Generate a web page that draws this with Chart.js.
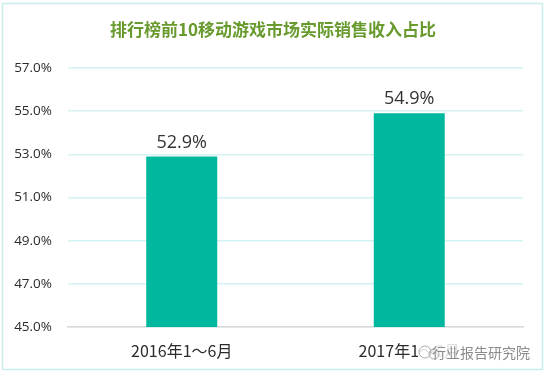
<!DOCTYPE html>
<html><head><meta charset="utf-8">
<script src="https://cdn.jsdelivr.net/npm/chart.js@4"></script>
<style>html,body{margin:0;padding:0;background:#fff;}#wrap{width:546px;height:378px;position:relative;}</style>
</head><body><div id="wrap"><canvas id="c" width="546" height="378"></canvas></div>
<script>
const titleText = '排行榜前10移动游戏市场实际销售收入占比';
const categories = ['2016年1～6月', '2017年1～6月'];
const shareValues = [52.9, 54.9];
const yTicks = [45, 47, 49, 51, 53, 55, 57];
const watermark = '行业报告研究院';

const deco = {
  id: 'deco',
  beforeDraw(chart) {
    const ctx = chart.ctx;
    ctx.save();
    ctx.fillStyle = '#fff';
    ctx.fillRect(0, 0, chart.width, chart.height);
    ctx.strokeStyle = '#c9efec';
    ctx.lineWidth = 1.5;
    ctx.strokeRect(2.5, 3.5, 540, 366);
    ctx.font = 'bold 17px "Noto Sans CJK SC", sans-serif';
    ctx.fillStyle = '#689a2e';
    ctx.textAlign = 'center';
    ctx.textBaseline = 'middle';
    ctx.fillText(titleText, 273, 30);
    ctx.restore();
  },
  afterDatasetsDraw(chart) {
    const ctx = chart.ctx;
    const meta = chart.getDatasetMeta(0);
    ctx.save();
    ctx.font = '18px "Open Sans", "Noto Sans", sans-serif';
    ctx.fillStyle = '#333';
    ctx.textAlign = 'center';
    ctx.textBaseline = 'bottom';
    meta.data.forEach((bar, i) => {
      ctx.fillText(shareValues[i].toFixed(1) + '%', bar.x, bar.y - 5);
    });
    ctx.restore();
  },
  afterDraw(chart) {
    const ctx = chart.ctx;
    ctx.save();
    ctx.fillStyle = 'rgba(255,255,255,0.85)';
    ctx.fillRect(418, 340, 112, 24);
    ctx.strokeStyle = '#aaa';
    ctx.lineWidth = 1;
    ctx.beginPath(); ctx.arc(425, 352, 6, 0, Math.PI * 2); ctx.stroke();
    ctx.beginPath(); ctx.arc(434, 354, 5, 0, Math.PI * 2); ctx.stroke();
    ctx.font = '14px "Noto Sans CJK SC", sans-serif';
    ctx.fillStyle = '#8a8a8a';
    ctx.textAlign = 'left';
    ctx.textBaseline = 'middle';
    ctx.fillText(watermark, 432, 353);
    ctx.restore();
  }
};

new Chart(document.getElementById('c'), {
  type: 'bar',
  data: {
    labels: categories,
    datasets: [{
      data: shareValues,
      backgroundColor: '#00b89d',
      barPercentage: 0.312,
      categoryPercentage: 1
    }]
  },
  options: {
    responsive: false,
    animation: false,
    layout: { padding: { top: 68, left: 0, right: 23, bottom: 0 } },
    plugins: { legend: { display: false }, title: { display: false }, tooltip: { enabled: false } },
    scales: {
      x: {
        grid: { display: false, drawTicks: false },
        border: { display: true, color: '#d9d9d9', width: 1.5 },
        ticks: { color: '#2b2b2b', font: { size: 16, family: '"Noto Sans CJK SC", sans-serif' }, padding: 14 },
        afterFit(s) { s.height = 51; }
      },
      y: {
        min: 45, max: 57,
        afterBuildTicks(s) { s.ticks = yTicks.map(v => ({ value: v })); },
        grid: { color: '#d3f2f1', lineWidth: 1.5, drawTicks: false },
        border: { display: false },
        ticks: {
          color: '#2b2b2b', padding: 16,
          font: { size: 13.5, family: '"Open Sans", "Noto Sans", sans-serif' },
          callback: v => v.toFixed(1) + '%'
        },
        afterFit(s) { s.width = 68; }
      }
    }
  },
  plugins: [deco]
});
</script></body></html>
